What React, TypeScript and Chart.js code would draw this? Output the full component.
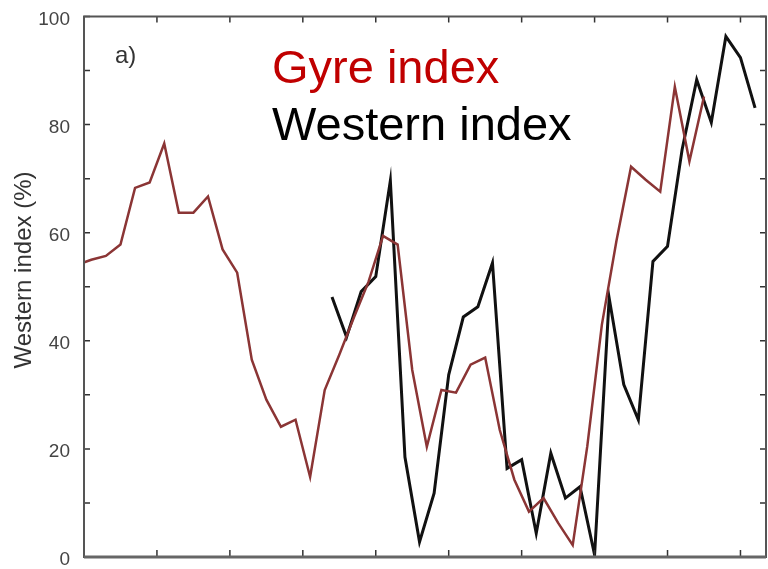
import React, { useEffect, useRef } from "react";
import { Chart, registerables } from "chart.js";

Chart.register(...registerables);

// Gyre index, plotted at mid-year
const GYRE_YEARS = [
  1959.5, 1960.5, 1961.5, 1962.5, 1963.5, 1964.5, 1965.5, 1966.5, 1967.5, 1968.5,
  1969.5, 1970.5, 1971.5, 1972.5, 1973.5, 1974.5, 1975.5, 1976.5, 1977.5, 1978.5,
  1979.5, 1980.5, 1981.5, 1982.5, 1983.5, 1984.5, 1985.5, 1986.5, 1987.5, 1988.5,
  1989.5, 1990.5, 1991.5, 1992.5, 1993.5, 1994.5, 1995.5, 1996.5, 1997.5, 1998.5,
  1999.5, 2000.5, 2001.5, 2002.5,
];
const GYRE_INDEX = [
  54.0, 55.0, 55.7, 57.8, 68.3, 69.3, 76.5, 63.7, 63.7, 66.7,
  56.9, 52.6, 36.5, 29.1, 24.1, 25.4, 14.8, 30.9, 37.4, 44.3,
  50.9, 59.4, 57.8, 34.6, 20.4, 30.9, 30.4, 35.6, 36.9, 23.5,
  14.3, 8.4, 10.9, 6.3, 2.2, 20.5, 43.0, 58.5, 72.2, 69.8,
  67.6, 87.0, 73.2, 85.2,
];

// Western index (%)
const WESTERN_YEARS = [
  1977, 1978, 1979, 1980, 1981, 1982, 1983, 1984, 1985, 1986,
  1987, 1988, 1989, 1990, 1991, 1992, 1993, 1994, 1995, 1996,
  1997, 1998, 1999, 2000, 2001, 2002, 2003, 2004, 2005, 2006,
];
const WESTERN_INDEX = [
  48.1, 40.7, 49.1, 51.9, 69.6, 18.5, 2.8, 11.8, 33.7, 44.4,
  46.3, 54.4, 16.4, 18.0, 4.4, 19.2, 10.9, 13.0, 0.4, 47.9,
  31.9, 25.4, 54.7, 57.5, 75.4, 88.3, 80.4, 96.3, 92.4, 83.1,
];

const X_TICKS = [1960, 1965, 1970, 1975, 1980, 1985, 1990, 1995, 2000, 2005];
const Y_TICKS = [0, 10, 20, 30, 40, 50, 60, 70, 80, 90, 100];
const Y_LABELS = [0, 20, 40, 60, 80, 100];

const FONT = "'Liberation Sans', Arial, Helvetica, sans-serif";

const framePlugin = {
  id: "frameAndLabels",
  afterDatasetsDraw(chart: any) {
    const { ctx, chartArea, scales } = chart;
    const { left, right, top, bottom } = chartArea;
    const x = scales.x;
    const y = scales.y;
    ctx.save();

    // inward tick marks on all four sides
    ctx.strokeStyle = "#333";
    ctx.lineWidth = 1.5;
    ctx.beginPath();
    for (const v of X_TICKS) {
      const px = x.getPixelForValue(v);
      ctx.moveTo(px, bottom);
      ctx.lineTo(px, bottom - 7);
      ctx.moveTo(px, top);
      ctx.lineTo(px, top + 6);
    }
    for (const v of Y_TICKS) {
      const py = y.getPixelForValue(v);
      ctx.moveTo(left, py);
      ctx.lineTo(left + 6, py);
      ctx.moveTo(right, py);
      ctx.lineTo(right - 6, py);
    }
    ctx.stroke();

    // plot frame
    ctx.strokeStyle = "#555";
    ctx.lineWidth = 2;
    ctx.strokeRect(left, top, right - left, bottom - top);
    ctx.lineWidth = 3;
    ctx.strokeStyle = "#666";
    ctx.beginPath();
    ctx.moveTo(left, bottom);
    ctx.lineTo(right, bottom);
    ctx.stroke();

    // y tick labels
    ctx.fillStyle = "#444";
    ctx.font = `19px ${FONT}`;
    ctx.textAlign = "right";
    ctx.textBaseline = "middle";
    for (const v of Y_LABELS) {
      ctx.fillText(String(v), left - 14, y.getPixelForValue(v) + 3);
    }

    // panel tag
    ctx.fillStyle = "#333";
    ctx.font = `24px ${FONT}`;
    ctx.textAlign = "left";
    ctx.textBaseline = "alphabetic";
    ctx.fillText("a)", 115, 63);

    // series key
    ctx.font = `47px ${FONT}`;
    ctx.fillStyle = "#c00000";
    ctx.fillText("Gyre index", 272, 83);
    ctx.fillStyle = "#000";
    ctx.fillText("Western index", 272, 140);

    // y-axis title
    ctx.translate(31, 270);
    ctx.rotate(-Math.PI / 2);
    ctx.textAlign = "center";
    ctx.fillStyle = "#333";
    ctx.font = `24px ${FONT}`;
    ctx.fillText("Western index (%)", 0, 0);

    ctx.restore();
  },
};

export default function App() {
  const canvasRef = useRef<HTMLCanvasElement | null>(null);

  useEffect(() => {
    if (!canvasRef.current) return;
    const chart = new Chart(canvasRef.current, {
      type: "line",
      data: {
        datasets: [
          {
            label: "Gyre index",
            data: GYRE_YEARS.map((yr, i) => ({ x: yr, y: GYRE_INDEX[i] })),
            borderColor: "#8b3535",
            borderWidth: 2.5,
            pointRadius: 0,
            tension: 0,
            fill: false,
          },
          {
            label: "Western index",
            data: WESTERN_YEARS.map((yr, i) => ({ x: yr, y: WESTERN_INDEX[i] })),
            borderColor: "#111",
            borderWidth: 3,
            pointRadius: 0,
            tension: 0,
            fill: false,
          },
        ],
      },
      options: {
        animation: false,
        responsive: false,
        maintainAspectRatio: false,
        layout: { padding: { left: 84, top: 16.5, right: 2, bottom: 12 } },
        plugins: {
          legend: { display: false },
          tooltip: { enabled: false },
        },
        scales: {
          x: {
            type: "linear",
            min: 1960,
            max: 2006.75,
            display: false,
          },
          y: {
            min: 0,
            max: 100,
            display: false,
          },
        },
      },
      plugins: [framePlugin],
    });
    return () => chart.destroy();
  }, []);

  return (
    <div
      style={{
        position: "fixed",
        left: 0,
        top: 0,
        width: 768,
        height: 569,
        background: "#fff",
      }}
    >
      <canvas ref={canvasRef} width={768} height={569} style={{ width: 768, height: 569 }} />
    </div>
  );
}
